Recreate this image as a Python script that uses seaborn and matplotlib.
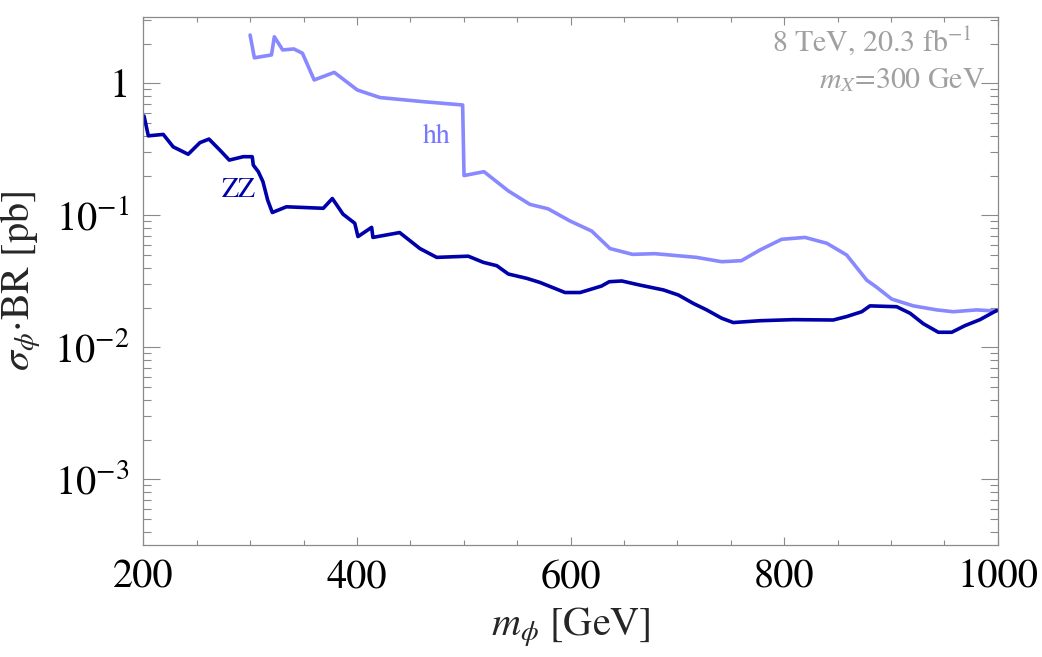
import numpy as np
import pandas as pd
import matplotlib
matplotlib.use("Agg")
import matplotlib.pyplot as plt
import matplotlib.ticker as mticker
import seaborn as sns

# ---------------- data ----------------
zz_mass = [200.7, 204.7, 218.7, 228, 242, 253, 261.5, 272, 280.5, 293.6, 302, 303,
           307.7, 312, 316.5, 320.8, 334, 368.5, 377, 387, 398, 401, 413.8, 415,
           440, 459, 474.7, 504.3, 518.4, 531, 541.8, 559, 571.4, 594.9, 609,
           629, 636.3, 648, 665, 687, 701, 715, 727.5, 741.6, 752.4, 777.4,
           808.6, 846, 858.6, 872.7, 880.4, 905.4, 918, 930.3, 944.4, 957,
           969.4, 983.4, 999]
zz_xsec = [0.565, 0.40, 0.41, 0.33, 0.29, 0.355, 0.378, 0.31, 0.262, 0.278, 0.278, 0.24,
           0.214, 0.18, 0.13, 0.105, 0.116, 0.113, 0.134, 0.102, 0.087, 0.069, 0.081, 0.068,
           0.074, 0.056, 0.048, 0.049, 0.044, 0.0415, 0.0359, 0.0333, 0.031, 0.026, 0.026,
           0.0291, 0.0314, 0.0318, 0.0296, 0.0272, 0.0249, 0.0215, 0.0192, 0.0166, 0.0154, 0.0159,
           0.0162, 0.0161, 0.0171, 0.0186, 0.0206, 0.0203, 0.0181, 0.0151, 0.0130, 0.0130,
           0.0146, 0.0162, 0.019]

hh_mass = [300, 304, 320, 322.7, 330.5, 341, 349, 360, 378.8, 400.4, 421.6, 462, 499,
           500.3, 519, 541.8, 562, 579, 599.5, 619.8, 637, 658, 679, 718, 741.6, 760,
           777.4, 797.7, 819.6, 840, 858.6, 877.3, 886.7, 900.7, 921, 943, 958.4, 980.3, 999]
hh_xsec = [2.32, 1.56, 1.64, 2.25, 1.79, 1.82, 1.69, 1.06, 1.21, 0.89, 0.78, 0.726, 0.685,
           0.20, 0.214, 0.153, 0.121, 0.112, 0.0906, 0.076, 0.056, 0.0506, 0.0512, 0.048, 0.0445, 0.0453,
           0.0546, 0.0658, 0.068, 0.0614, 0.050, 0.0323, 0.0285, 0.0232, 0.0206, 0.0192, 0.0186, 0.0192, 0.0188]

x_ticks = [200, 400, 600, 800, 1000]
x_tick_labels = ["200", "400", "600", "800", "1000"]
y_ticks = [1e-3, 1e-2, 1e-1, 1]
y_tick_labels = ["$10^{-3}$", "$10^{-2}$", "$10^{-1}$", "1"]

# ---------------- styling ----------------
sns.set_style("ticks")
plt.rcParams["font.family"] = ["STIXGeneral", "DejaVu Serif"]
plt.rcParams["mathtext.fontset"] = "stix"

GREY = "#8a8a8a"
ZZ_COLOR = "#0000aa"
HH_COLOR = "#8888ff"

fig = plt.figure(figsize=(10.42, 6.57), dpi=100)
W, H = 1042, 657
ax = fig.add_axes([143.3 / W, 1 - 545.3 / H, (997.7 - 143.3) / W, (545.3 - 17.3) / H])

df_zz = pd.DataFrame({"m": zz_mass, "xs": zz_xsec})
df_hh = pd.DataFrame({"m": hh_mass, "xs": hh_xsec})
sns.lineplot(data=df_hh, x="m", y="xs", ax=ax, color=HH_COLOR, lw=2.6, sort=False,
             estimator=None)
sns.lineplot(data=df_zz, x="m", y="xs", ax=ax, color=ZZ_COLOR, lw=2.6, sort=False,
             estimator=None)

ax.set_yscale("log")
ax.set_xlim(200, 1000)
ax.set_ylim(10 ** -3.5, 10 ** 0.5)

ax.set_xticks(x_ticks)
ax.set_xticklabels(x_tick_labels)
ax.xaxis.set_minor_locator(mticker.MultipleLocator(50))
ax.set_yticks(y_ticks)
ax.set_yticklabels(y_tick_labels)
ax.yaxis.set_minor_locator(mticker.LogLocator(base=10, subs=np.arange(2, 10)))
ax.yaxis.set_minor_formatter(mticker.NullFormatter())

for s in ax.spines.values():
    s.set_color(GREY)
    s.set_linewidth(0.9)

ax.tick_params(axis="both", which="both", direction="in", top=True, right=True,
               color=GREY, width=0.8, labelsize=29, labelcolor="black")
ax.tick_params(axis="y", which="major", length=12.5, pad=10)
ax.tick_params(axis="y", which="minor", length=6)
ax.tick_params(axis="x", which="major", length=5.5, pad=10)
ax.tick_params(axis="x", which="minor", length=3.6)

ax.set_xlabel(r"$m_{\phi}$ [GeV]", fontsize=29, labelpad=6)
ax.set_ylabel(r"$\sigma_{\phi}{\cdot}$BR [pb]", fontsize=29, labelpad=8)

fig.text(423 / W, 1 - 143 / H, "hh", fontsize=20, color="#7777ff",
         ha="left", va="baseline")
fig.text(222 / W, 1 - 196.7 / H, "ZZ", fontsize=20, color=ZZ_COLOR,
         ha="left", va="baseline")

fig.text(972 / W, 1 - 50.7 / H, r"8 TeV, 20.3 fb$^{-1}$", fontsize=21.5, color="#a0a0a0",
         ha="right", va="baseline")
fig.text(985 / W, 1 - 87.7 / H, r"$m_X$=300 GeV", fontsize=21.5, color="#a0a0a0",
         ha="right", va="baseline")

fig.savefig("out.png", dpi=100)
